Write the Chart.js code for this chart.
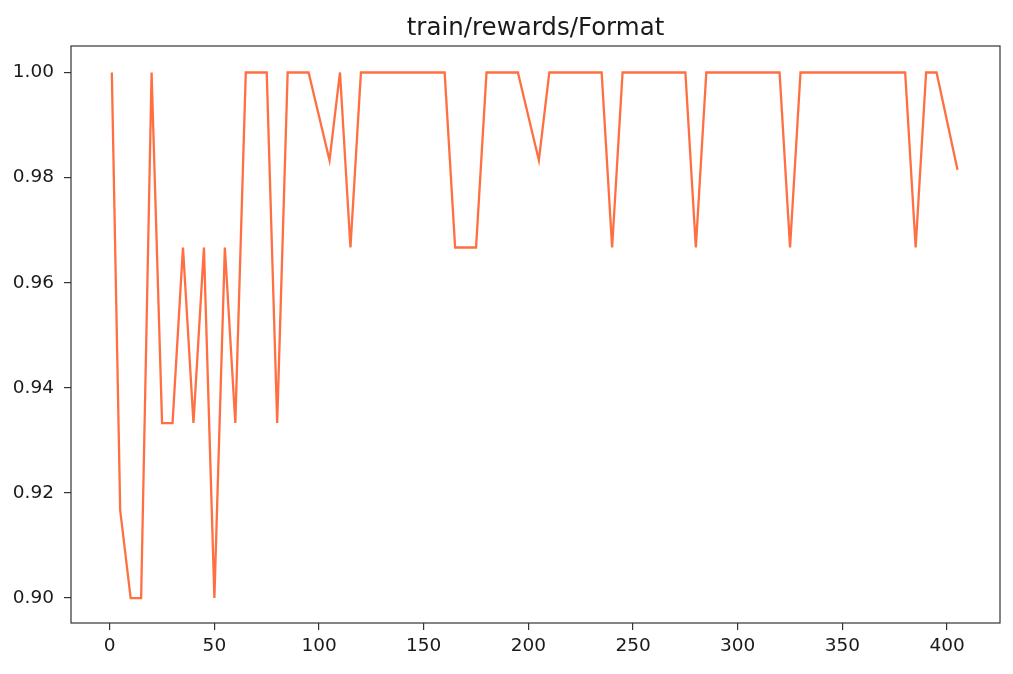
<!DOCTYPE html>
<html>
<head>
<meta charset="utf-8">
<script src="https://cdn.jsdelivr.net/npm/chart.js@4.4.1/dist/chart.umd.min.js"></script>
<style>
  html, body { margin: 0; padding: 0; background: #fff; }
  #wrap { width: 1013px; height: 674px; position: relative; }
</style>
</head>
<body>
<div id="wrap"><canvas id="rewardChart"></canvas></div>
<script>
// values
var chartTitle = "train/rewards/Format";

var steps = [
  1, 5, 10, 15, 20, 25, 30, 35, 40, 45,
  50, 55, 60, 65, 70, 75, 80, 85, 90, 95,
  105, 110, 115, 120, 125, 130, 135, 140, 145, 150,
  155, 160, 165, 170, 175, 180, 185, 190, 195, 205,
  210, 215, 220, 225, 230, 235, 240, 245, 250, 255,
  260, 265, 270, 275, 280, 285, 290, 295, 300, 305,
  310, 315, 320, 325, 330, 335, 340, 345, 350, 355,
  360, 365, 370, 375, 380, 385, 390, 395, 405
];

var formatReward = [
  1.0, 0.9167, 0.9, 0.9, 1.0, 0.9333, 0.9333, 0.9667, 0.9333, 0.9667,
  0.9, 0.9667, 0.9333, 1.0, 1.0, 1.0, 0.9333, 1.0, 1.0, 1.0,
  0.9833, 1.0, 0.9667, 1.0, 1.0, 1.0, 1.0, 1.0, 1.0, 1.0,
  1.0, 1.0, 0.9667, 0.9667, 0.9667, 1.0, 1.0, 1.0, 1.0, 0.9833,
  1.0, 1.0, 1.0, 1.0, 1.0, 1.0, 0.9667, 1.0, 1.0, 1.0,
  1.0, 1.0, 1.0, 1.0, 0.9667, 1.0, 1.0, 1.0, 1.0, 1.0,
  1.0, 1.0, 1.0, 0.9667, 1.0, 1.0, 1.0, 1.0, 1.0, 1.0,
  1.0, 1.0, 1.0, 1.0, 1.0, 0.9667, 1.0, 1.0, 0.9815
];

var xTicks = [0, 50, 100, 150, 200, 250, 300, 350, 400];
var yTicks = [0.90, 0.92, 0.94, 0.96, 0.98, 1.00];

var points = steps.map(function (s, i) { return { x: s, y: formatReward[i] }; });

// box around plot + title centred over the plot area
var frameAndTitle = {
  id: "frameAndTitle",
  afterDraw: function (chart) {
    var ctx = chart.ctx, a = chart.chartArea;
    ctx.save();
    ctx.strokeStyle = "#333";
    ctx.lineWidth = 1.2;
    ctx.strokeRect(a.left, a.top, a.right - a.left, a.bottom - a.top);
    ctx.fillStyle = "#1a1a1a";
    ctx.font = "24.5px 'DejaVu Sans'";
    ctx.textAlign = "center";
    ctx.textBaseline = "alphabetic";
    ctx.fillText(chartTitle, (a.left + a.right) / 2, 35);
    ctx.restore();
  }
};

var tickFont = { family: "DejaVu Sans", size: 18.5 };

new Chart(document.getElementById("rewardChart"), {
  type: "scatter",
  data: {
    datasets: [{
      data: points,
      showLine: true,
      borderColor: "#ff6f42",
      borderWidth: 2.3,
      pointRadius: 0,
      pointHoverRadius: 0,
      tension: 0,
      fill: false
    }]
  },
  options: {
    responsive: true,
    maintainAspectRatio: false,
    devicePixelRatio: 1,
    animation: false,
    events: [],
    layout: { padding: { top: 46, right: 13, left: 0, bottom: 0 } },
    plugins: {
      legend: { display: false },
      tooltip: { enabled: false },
      title: { display: false }
    },
    scales: {
      x: {
        type: "linear",
        min: -18.5,
        max: 425.3,
        afterBuildTicks: function (scale) {
          scale.ticks = xTicks.map(function (v) { return { value: v }; });
        },
        afterFit: function (scale) { scale.height = 51; },
        ticks: { color: "#1a1a1a", font: tickFont, padding: 5, maxRotation: 0,
                 callback: function (v) { return String(v); } },
        grid: { display: true, drawOnChartArea: false, drawTicks: true,
                tickLength: 7, color: "#333", lineWidth: 1.2 },
        border: { display: false }
      },
      y: {
        type: "linear",
        min: 0.89525,
        max: 1.00504,
        afterBuildTicks: function (scale) {
          scale.ticks = yTicks.map(function (v) { return { value: v }; });
        },
        afterFit: function (scale) { scale.width = 71; },
        ticks: { color: "#1a1a1a", font: tickFont, padding: 10,
                 callback: function (v) { return v.toFixed(2); } },
        grid: { display: true, drawOnChartArea: false, drawTicks: true,
                tickLength: 7, color: "#333", lineWidth: 1.2 },
        border: { display: false }
      }
    }
  },
  plugins: [frameAndTitle]
});
</script>
</body>
</html>
